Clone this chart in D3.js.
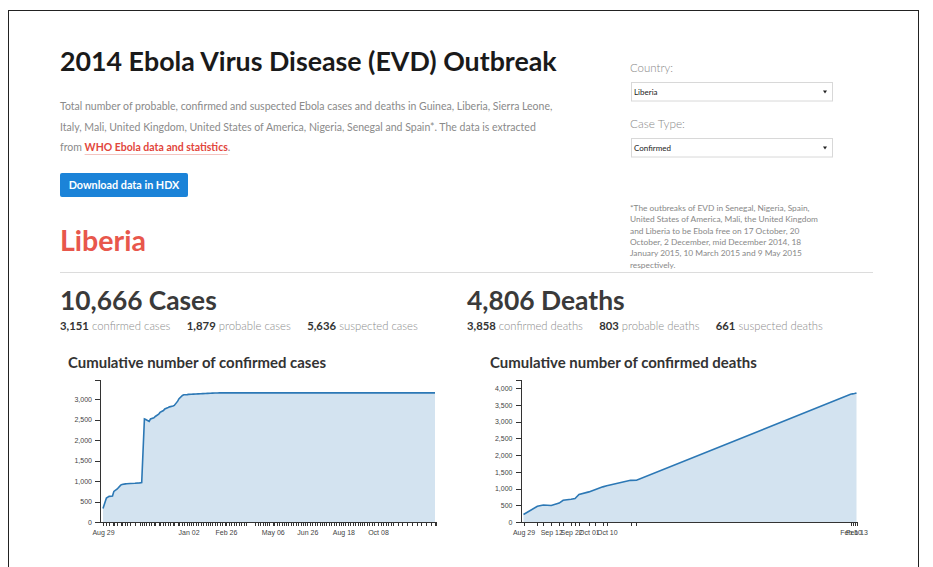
<!DOCTYPE html>
<html>
<head>
<meta charset="utf-8">
<script src="https://cdn.jsdelivr.net/npm/d3@7"></script>
<style>
  body { margin: 0; background: #fff; }
  svg text { font-family: Lato, "Source Sans Pro", sans-serif; }
  .axis text { font-family: "Liberation Sans", Arial, sans-serif; font-size: 7px; fill: #444; }
  .axis path, .axis line { stroke: #333; shape-rendering: crispEdges; }
</style>
</head>
<body>
<svg id="page" width="933" height="567"></svg>
<script>
// confirmed cases, Liberia (cumulative)
var caseDates = [
  "2014-08-29","2014-09-03","2014-09-07","2014-09-12","2014-09-14","2014-09-19","2014-09-24","2014-09-26",
  "2014-10-01","2014-10-03","2014-10-08","2014-10-15","2014-10-22","2014-10-25","2014-10-29","2014-10-31",
  "2014-11-05","2014-11-07","2014-11-12","2014-11-14","2014-11-19","2014-11-21","2014-11-26","2014-11-28",
  "2014-12-03","2014-12-05","2014-12-10","2014-12-12","2014-12-17","2014-12-19","2014-12-24","2014-12-26","2014-12-31",
  "2015-01-02","2015-01-06","2015-01-09","2015-01-13","2015-01-16","2015-01-20","2015-01-23","2015-01-27","2015-01-30",
  "2015-02-03","2015-02-06","2015-02-10","2015-02-13","2015-02-17","2015-02-20","2015-02-24","2015-02-26",
  "2015-03-03","2015-03-06","2015-03-10","2015-03-13","2015-03-17","2015-03-20","2015-03-24","2015-03-27",
  "2015-04-10","2015-04-14","2015-04-17","2015-04-21","2015-04-24","2015-04-28",
  "2015-05-01","2015-05-06","2015-05-08","2015-05-12","2015-05-15","2015-05-19","2015-05-22","2015-05-26","2015-05-29",
  "2015-06-02","2015-06-05","2015-06-09","2015-06-12","2015-06-16","2015-06-19","2015-06-23","2015-06-26","2015-06-30",
  "2015-07-03","2015-07-07","2015-07-10","2015-07-14","2015-07-17","2015-07-21","2015-07-24","2015-07-28","2015-07-31",
  "2015-08-04","2015-08-07","2015-08-11","2015-08-14","2015-08-18","2015-08-21","2015-08-25","2015-08-28",
  "2015-09-01","2015-09-04","2015-09-08","2015-09-11","2015-09-15","2015-09-18","2015-09-22","2015-09-25","2015-09-29",
  "2015-10-02","2015-10-08","2015-10-13","2015-10-16","2015-10-20","2015-10-23","2015-10-27","2015-10-30",
  "2015-11-06","2015-11-13","2015-11-20","2015-11-27",
  "2015-12-04","2015-12-11","2015-12-18","2015-12-25","2015-12-31"
];
var caseValues = [
  330,586,625,633,747,805,900,915,
  930,935,940,945,955,965,2515,2500,
  2455,2515,2545,2575,2630,2675,2720,2760,
  2795,2810,2830,2845,2950,3010,3090,3105,3110,
  3115,3118,3121,3125,3128,3131,3134,3137,3140,
  3143,3146,3148,3150,3151,3151,3151,3151,
  3151,3151,3151,3151,3151,3151,3151,3151,
  3151,3151,3151,3151,3151,3151,
  3151,3151,3151,3151,3151,3151,3151,3151,3151,
  3151,3151,3151,3151,3151,3151,3151,3151,3151,
  3151,3151,3151,3151,3151,3151,3151,3151,3151,
  3151,3151,3151,3151,3151,3151,3151,3151,
  3151,3151,3151,3151,3151,3151,3151,3151,3151,
  3151,3151,3151,3151,3151,3151,3151,3151,
  3151,3151,3151,3151,
  3151,3151,3151,3151,3151
];
var caseLabels = ["2014-08-29","2015-01-02","2015-02-26","2015-05-06","2015-06-26","2015-08-18","2015-10-08"];

// confirmed deaths, Liberia (cumulative)
var deathDates = [
  "2014-08-29","2014-09-05","2014-09-08","2014-09-12","2014-09-16","2014-09-18","2014-09-22","2014-09-24",
  "2014-09-26","2014-10-01","2014-10-04","2014-10-08","2014-10-10","2014-10-22","2014-10-25",
  "2015-02-10","2015-02-11","2015-02-12","2015-02-13"
];
var deathValues = [225,470,510,495,565,650,680,700,820,900,965,1050,1085,1245,1248,3815,3830,3842,3858];
var deathLabels = ["2014-08-29","2014-09-12","2014-09-22","2014-10-01","2014-10-10","2015-02-10","2015-02-13"];

var caseTicks = [0,500,1000,1500,2000,2500,3000];
var deathTicks = [0,500,1000,1500,2000,2500,3000,3500,4000];

var caseBreakdown = [["3,151","confirmed cases"],["1,879","probable cases"],["5,636","suspected cases"]];
var deathBreakdown = [["3,858","confirmed deaths"],["803","probable deaths"],["661","suspected deaths"]];

var footnote = [
  "*The outbreaks of EVD in Senegal, Nigeria, Spain,",
  "United States of America, Mali, the United Kingdom",
  "and Liberia to be Ebola free on 17 October, 20",
  "October, 2 December, mid December 2014, 18",
  "January 2015, 10 March 2015 and 9 May 2015",
  "respectively."
];

var svg = d3.select("#page");
var parseDate = d3.timeParse("%Y-%m-%d");
var fmtDate = d3.timeFormat("%b %d");
var keyDate = d3.timeFormat("%Y-%m-%d");

// scale a text's font size so it spans a given width
function fit(t, w) {
  var len = t.node().getBBox().width;
  var fs = parseFloat(t.attr("font-size"));
  t.attr("font-size", (fs * w / len).toFixed(2));
  return t;
}

// page frame
svg.append("rect").attr("x", 8.5).attr("y", 10.5).attr("width", 910).attr("height", 600)
  .attr("fill", "none").attr("stroke", "#222");

// header
fit(svg.append("text").attr("x", 60).attr("y", 71).attr("font-size", 24).attr("font-weight", 700)
  .attr("fill", "#1a1a1a").text("2014 Ebola Virus Disease (EVD) Outbreak"), 497);

var p1 = fit(svg.append("text").attr("x", 60).attr("y", 109.5).attr("font-size", 9).attr("fill", "#8a8a8a")
  .text("Total number of probable, confirmed and suspected Ebola cases and deaths in Guinea, Liberia, Sierra Leone,"), 493);
var pfs = p1.attr("font-size");
svg.append("text").attr("x", 60).attr("y", 130.5).attr("font-size", pfs).attr("fill", "#8a8a8a")
  .text("Italy, Mali, United Kingdom, United States of America, Nigeria, Senegal and Spain*. The data is extracted");
var p3 = svg.append("text").attr("x", 60).attr("y", 151).attr("font-size", pfs).attr("fill", "#8a8a8a");
p3.append("tspan").text("from ");
p3.append("tspan").attr("font-weight", 700).attr("fill", "#e2463c").text("WHO Ebola data and statistics");
p3.append("tspan").text(".");
var x0 = p3.node().getStartPositionOfChar(5).x;
var x1 = p3.node().getEndPositionOfChar(33).x;
svg.append("line").attr("x1", x0).attr("x2", x1).attr("y1", 154.5).attr("y2", 154.5)
  .attr("stroke", "#f3c4c0").attr("stroke-width", 1);

svg.append("rect").attr("x", 60).attr("y", 173).attr("width", 128).attr("height", 24).attr("rx", 2)
  .attr("fill", "#1b83d8");
fit(svg.append("text").attr("x", 124).attr("y", 188.5).attr("text-anchor", "middle").attr("font-size", 9)
  .attr("font-weight", 700).attr("fill", "#fff").text("Download data in HDX"), 112);

// selectors
function selector(label, value, ly, by) {
  fit(svg.append("text").attr("x", 630).attr("y", ly).attr("font-size", 11).attr("fill", "#888")
    .attr("font-weight", 300).text(label), label.length > 9 ? 55 : 43);
  svg.append("rect").attr("x", 631.5).attr("y", by).attr("width", 201).attr("height", 18.5)
    .attr("fill", "#fff").attr("stroke", "#d8d8d8");
  svg.append("text").attr("x", 634).attr("y", by + 12.5).attr("font-size", 8)
    .attr("font-family", "'Liberation Sans', Arial, sans-serif").attr("fill", "#222").text(value);
  svg.append("path").attr("d", "M823," + (by + 8) + "h4l-2,3z").attr("fill", "#222");
}
selector("Country:", "Liberia", 72, 82.5);
selector("Case Type:", "Confirmed", 128, 138.5);

// footnote, clipped at the rule
svg.append("clipPath").attr("id", "fnclip").append("rect")
  .attr("x", 620).attr("y", 195).attr("width", 260).attr("height", 76);
var fn = svg.append("g").attr("clip-path", "url(#fnclip)");
var fnSize;
footnote.forEach(function (s, i) {
  var t = fn.append("text").attr("x", 630).attr("y", 211 + i * 11.3).attr("font-size", fnSize || 8)
    .attr("fill", "#888").text(s);
  if (i === 0) fnSize = fit(t, 180).attr("font-size");
});

// country name and rule
fit(svg.append("text").attr("x", 60).attr("y", 251).attr("font-size", 22).attr("font-weight", 700)
  .attr("fill", "#e8574c").text("Liberia"), 86);
svg.append("line").attr("x1", 60).attr("x2", 873).attr("y1", 272.5).attr("y2", 272.5).attr("stroke", "#dcdcdc");

// totals
function totals(x, head, headW, parts, subW) {
  fit(svg.append("text").attr("x", x).attr("y", 309.5).attr("font-size", 20).attr("font-weight", 700)
    .attr("fill", "#3a3a3a").text(head), headW);
  var t = svg.append("text").attr("x", x).attr("y", 329.5).attr("font-size", 10);
  parts.forEach(function (p, i) {
    t.append("tspan").attr("dx", i ? "1.45em" : 0).attr("font-weight", 700).attr("fill", "#333").text(p[0]);
    t.append("tspan").attr("fill", "#8c8c8c").attr("font-weight", 300).text(" " + p[1]);
  });
  fit(t, subW);
}
totals(60, "10,666 Cases", 157, caseBreakdown, 358);
totals(467, "4,806 Deaths", 158, deathBreakdown, 356);

// charts
function drawChart(cfg) {
  fit(svg.append("text").attr("x", cfg.titleX).attr("y", 368).attr("font-size", 11.5).attr("font-weight", 700)
    .attr("fill", "#333").text(cfg.title), cfg.titleW);

  var g = svg.append("g").attr("transform", "translate(" + cfg.left + "," + cfg.top + ")");
  var dates = cfg.dates.map(parseDate);
  var data = dates.map(function (d, i) { return { date: d, value: cfg.values[i] }; });
  var labelSet = new Set(cfg.labels);

  var x = d3.scaleTime().domain(d3.extent(dates)).range([3, cfg.width]);
  var y = d3.scaleLinear().domain([0, d3.max(cfg.values) * 1.1]).range([cfg.height, 0]);

  g.append("path").datum(data)
    .attr("d", d3.area().x(function (d) { return x(d.date); }).y0(cfg.height).y1(function (d) { return y(d.value); }))
    .attr("fill", "#d3e3f0");
  g.append("path").datum(data)
    .attr("d", d3.line().x(function (d) { return x(d.date); }).y(function (d) { return y(d.value); }))
    .attr("fill", "none").attr("stroke", "#2c78b5").attr("stroke-width", 1.6);

  var xa = g.append("g").attr("class", "axis").attr("color", "#444")
    .attr("transform", "translate(0," + cfg.height + ")")
    .call(d3.axisBottom(x).tickValues(dates).tickSize(4).tickPadding(4)
      .tickFormat(function (d) { return labelSet.has(keyDate(d)) ? fmtDate(d) : ""; }));
  xa.select(".domain").attr("d", "M0,0H" + (cfg.width + 1) + "V4");

  g.append("g").attr("class", "axis").attr("color", "#444")
    .call(d3.axisLeft(y).tickValues(cfg.ticks).tickSize(5).tickPadding(3).tickFormat(d3.format(",")));
}

drawChart({ title: "Cumulative number of confirmed cases", titleX: 68, titleW: 258,
  left: 100, top: 380, width: 335, height: 142,
  dates: caseDates, values: caseValues, labels: caseLabels, ticks: caseTicks });
drawChart({ title: "Cumulative number of confirmed deaths", titleX: 490, titleW: 267,
  left: 520.5, top: 380, width: 336, height: 142,
  dates: deathDates, values: deathValues, labels: deathLabels, ticks: deathTicks });
</script>
</body>
</html>
